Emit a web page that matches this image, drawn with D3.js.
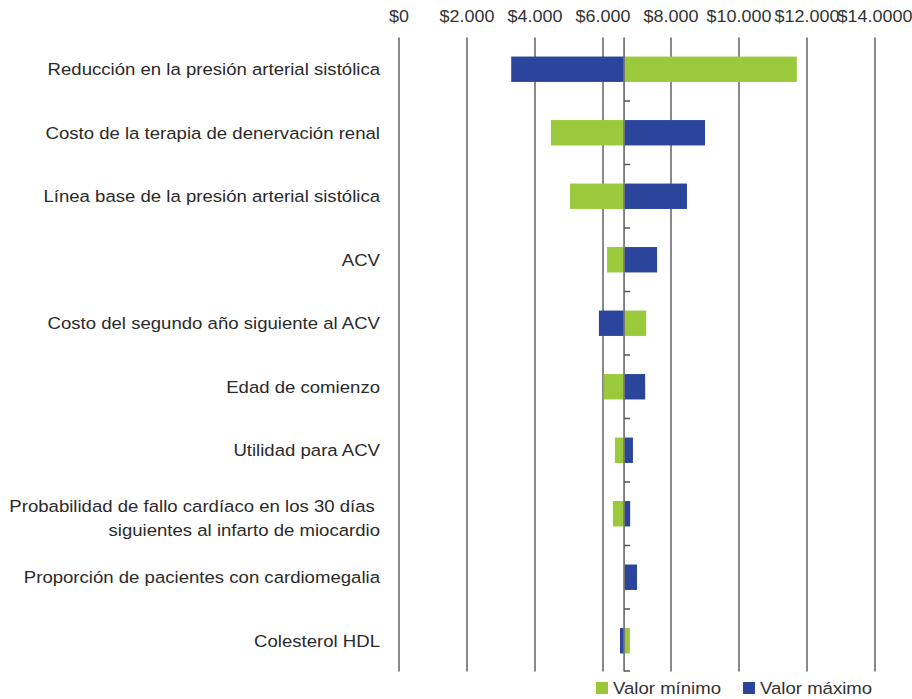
<!DOCTYPE html>
<html><head><meta charset="utf-8">
<script src="https://cdn.jsdelivr.net/npm/d3@7"></script>
<style>
html,body{margin:0;padding:0;background:#fff;}
svg{display:block;font-family:"Liberation Sans",Arial,Helvetica,sans-serif;}
</style></head>
<body>
<svg id="chart" width="912" height="699"></svg>
<script>
// Data
const categories = [
  ["Reducción en la presión arterial sistólica"],
  ["Costo de la terapia de denervación renal"],
  ["Línea base de la presión arterial sistólica"],
  ["ACV"],
  ["Costo del segundo año siguiente al ACV"],
  ["Edad de comienzo"],
  ["Utilidad para ACV"],
  ["Probabilidad de fallo cardíaco en los 30 días ", "siguientes al infarto de miocardio"],
  ["Proporción de pacientes con cardiomegalia"],
  ["Colesterol HDL"]
];
const baseValue = 6620;
const minValues = [11700, 4470, 5030, 6120, 7270, 6020, 6350, 6290, 6700, 6790];
const maxValues = [3300, 9000, 8470, 7590, 5880, 7240, 6880, 6800, 7000, 6500];
const tickValues = [0, 2000, 4000, 6000, 8000, 10000, 12000, 14000];
const tickLabels = ["$0", "$2.000", "$4.000", "$6.000", "$8.000", "$10.000", "$12.000", "$14.0000"];
const seriesNames = ["Valor mínimo", "Valor máximo"];
const colors = ["#9bc93c", "#2b459c"];

const svg = d3.select("#chart");
const top0 = 37.5, bot0 = 672.5;
const x = d3.scaleLinear().domain([0, 14000]).range([399, 875]);
const y = d3.scaleBand().domain(d3.range(categories.length)).range([top0, bot0]).paddingInner(0.6).paddingOuter(0.3);
const band = (bot0 - top0) / categories.length;
const SX = 1.14;

// gridlines
svg.append("g").selectAll("line").data(tickValues).join("line")
  .attr("x1", d => x(d)).attr("x2", d => x(d))
  .attr("y1", top0).attr("y2", bot0 - 1)
  .attr("stroke", "#4a4a4a").attr("stroke-width", 1.3);

// top axis labels
svg.append("g").selectAll("text").data(tickValues).join("text")
  .attr("transform", d => `translate(${x(d)},22) scale(1.1,1)`)
  .attr("text-anchor", "middle").attr("font-size", 16.3).attr("fill", "#333")
  .text((d, i) => tickLabels[i]);

// bars
const rows = svg.append("g");
categories.forEach((c, i) => {
  const yy = y(i), h = y.bandwidth();
  const vMin = minValues[i], vMax = maxValues[i];
  rows.append("rect")
    .attr("x", x(Math.min(baseValue, vMin))).attr("y", yy)
    .attr("width", Math.abs(x(vMin) - x(baseValue))).attr("height", h)
    .attr("fill", colors[0]);
  rows.append("rect")
    .attr("x", x(Math.min(baseValue, vMax))).attr("y", yy)
    .attr("width", Math.abs(x(vMax) - x(baseValue))).attr("height", h)
    .attr("fill", colors[1]);
});

// center axis line with ticks
const cx = x(baseValue);
svg.append("line").attr("x1", cx).attr("x2", cx).attr("y1", top0).attr("y2", bot0 - 1)
  .attr("stroke", "#777").attr("stroke-width", 1.8);
svg.append("g").selectAll("line").data(d3.range(1, categories.length + 1)).join("line")
  .attr("x1", cx).attr("x2", cx + 6)
  .attr("y1", d => top0 + d * band - (d === categories.length ? 1.5 : 0))
  .attr("y2", d => top0 + d * band - (d === categories.length ? 1.5 : 0))
  .attr("stroke", "#555").attr("stroke-width", 1.5);

// category labels
const lab = svg.append("g");
categories.forEach((lines, i) => {
  const cy = y(i) + y.bandwidth() / 2;
  const t = lab.append("text").attr("text-anchor", "end").attr("font-size", 16.3).attr("fill", "#2a2a2a")
    .attr("transform", `translate(380,0) scale(${SX},1)`)
    .attr("xml:space", "preserve").style("white-space", "pre");
  lines.forEach((ln, j) => {
    const off = lines.length === 1 ? 6 : (j === 0 ? -1.5 : 22.5);
    t.append("tspan").attr("x", 0).attr("y", cy + off).text(ln);
  });
});

// legend
const leg = svg.append("g");
const legX = [596, 743];
seriesNames.forEach((n, i) => {
  leg.append("rect").attr("x", legX[i]).attr("y", 682).attr("width", 12).attr("height", 12).attr("fill", colors[i]);
  leg.append("text").attr("transform", `translate(${legX[i] + 17},694) scale(${SX},1)`)
    .attr("font-size", 16.3).attr("fill", "#333").text(n);
});
</script>
</body></html>
